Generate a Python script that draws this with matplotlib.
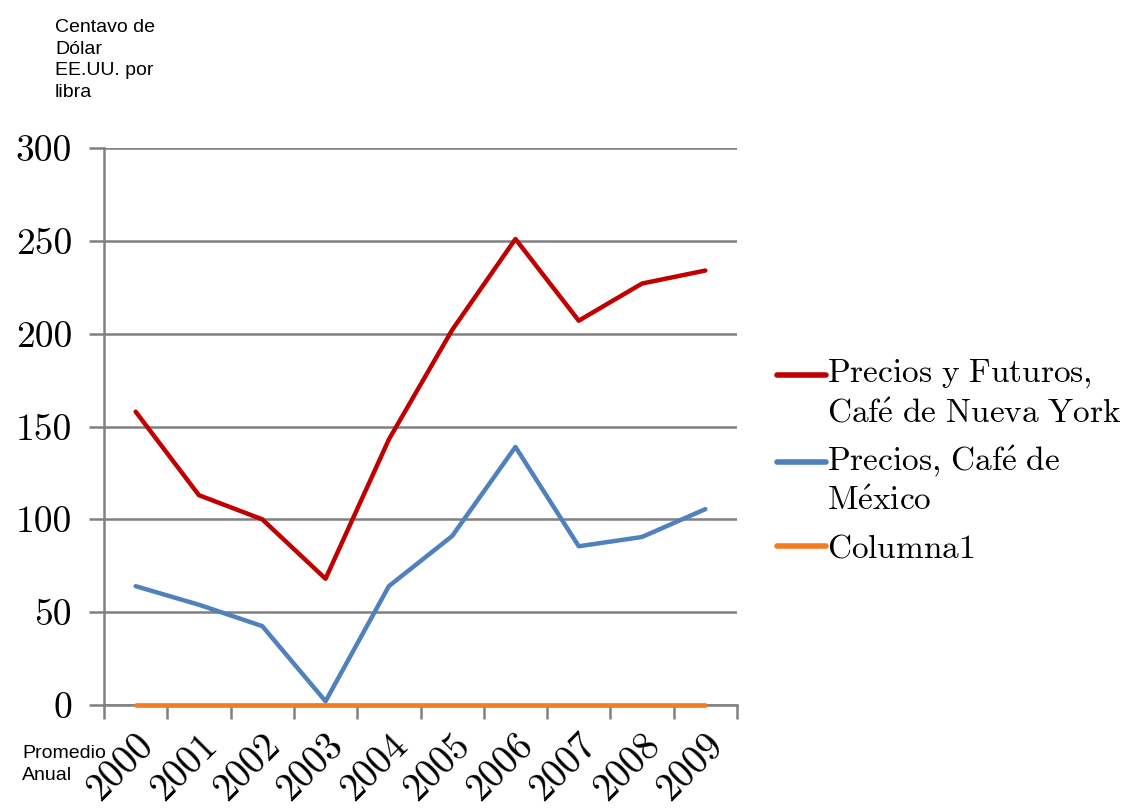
import matplotlib
matplotlib.use("Agg")
import matplotlib.pyplot as plt
import numpy as np

years = ["2000", "2001", "2002", "2003", "2004", "2005", "2006", "2007", "2008", "2009"]
ny_prices = [158, 113, 100, 68, 143, 202, 251, 207, 227, 234]
mx_prices = [64, 54, 42.5, 2, 64, 91, 139, 85.5, 90.5, 105.5]
columna1 = [0, 0, 0, 0, 0, 0, 0, 0, 0, 0]
series_names = [r"$\mathrm{Precios\ y\ Futuros{,}}$" + "\n" + r"$\mathrm{Caf\acute{e}\ de\ Nueva\ York}$",
                r"$\mathrm{Precios{,}\ Caf\acute{e}\ de}$" + "\n" + r"$\mathrm{M\acute{e}xico}$",
                r"$\mathrm{Columna1}$"]
yticks = [0, 50, 100, 150, 200, 250, 300]

plt.rcParams['mathtext.fontset'] = 'cm'
plt.rcParams['axes.formatter.use_mathtext'] = True
serif = ['cmr10', 'DejaVu Serif']
sans = ['Liberation Sans', 'DejaVu Sans']

fig = plt.figure(figsize=(11.48, 8.10), dpi=100)
ax = fig.add_axes([104/1148, 1-705/810, (737-104)/1148, (705-148)/810])

x = np.arange(len(years))
l1, = ax.plot(x, ny_prices, color="#C00000", lw=3.2, solid_capstyle='round', zorder=3)
l2, = ax.plot(x, mx_prices, color="#4F81BD", lw=3.2, solid_capstyle='round', zorder=3, clip_on=False)
l3, = ax.plot(x, columna1, color="#F47B20", lw=3.4, solid_capstyle='round', zorder=4, clip_on=False)

ax.set_xlim(-0.5, len(years) - 0.5)
ax.set_ylim(0, 300)
ax.set_yticks(yticks)
ax.set_yticklabels([str(v) for v in yticks], fontfamily=serif, fontsize=27)
ax.yaxis.grid(True, color="#808080", lw=1.8)
ax.set_axisbelow(True)
ax.tick_params(axis='y', length=11, width=1.8, color="#808080", pad=12)

ax.set_xticks(np.arange(-0.5, len(years)), minor=False)
ax.set_xticklabels([""] * (len(years) + 1))
ax.tick_params(axis='x', length=10, width=1.8, color="#808080", direction='out')
ax.set_xticks(x, minor=True)
ax.set_xticklabels(years, minor=True, rotation=45, ha='right', va='top',
                   rotation_mode='anchor', fontfamily=serif, fontsize=28)
ax.tick_params(axis='x', which='minor', length=0, pad=16)

for s in ['top', 'right']:
    ax.spines[s].set_visible(False)
for s in ['left', 'bottom']:
    ax.spines[s].set_color("#808080")
    ax.spines[s].set_linewidth(1.8)

leg = fig.legend([l1, l2, l3], series_names, loc='upper left',
                 bbox_to_anchor=(764/1148, 1-345/810), frameon=False,
                 prop={'size': 24}, handlelength=1.45,
                 handletextpad=0.05, labelspacing=0.42, borderaxespad=0)
for i, line in enumerate(leg.get_lines()):
    line.set_linewidth(4)
    if "\n" in series_names[i]:
        line.set_ydata(np.asarray(line.get_ydata()) + 14.5)

fig.text(55/1148, 1-19/810, "Centavo de\nDólar\nEE.UU. por\nlibra", ha='left', va='top',
         fontsize=14, family=sans, linespacing=1.36)
fig.text(22/1148, 1-745/810, "Promedio\nAnual", ha='left', va='top',
         fontsize=14, family=sans, linespacing=1.36)

fig.savefig("out.png", dpi=100)
